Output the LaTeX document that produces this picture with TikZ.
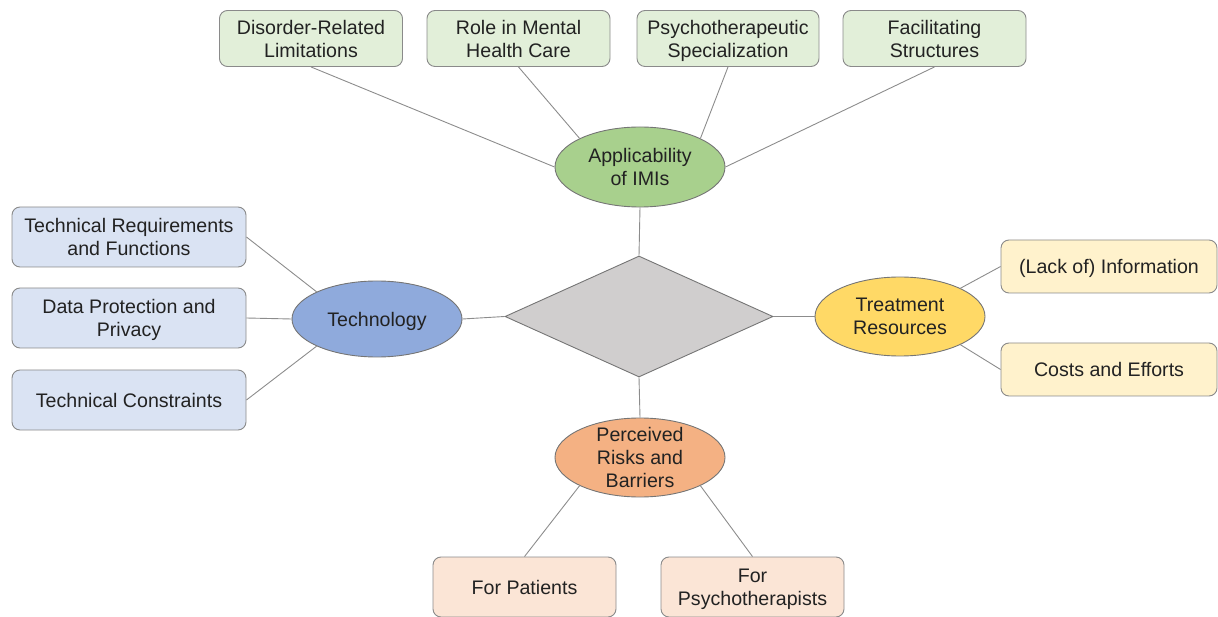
\documentclass[tikz,border=0pt]{standalone}
\usepackage{fontspec}
\setmainfont{Liberation Sans}
\usetikzlibrary{shapes.geometric}
\definecolor{gbox}{HTML}{E2EFD9}
\definecolor{gell}{HTML}{A8D08D}
\definecolor{bbox}{HTML}{DAE3F3}
\definecolor{bell}{HTML}{8FAADC}
\definecolor{ybox}{HTML}{FFF2CC}
\definecolor{yell}{HTML}{FFD966}
\definecolor{obox}{HTML}{FBE5D6}
\definecolor{oell}{HTML}{F4B183}
\definecolor{dia}{HTML}{D0CECE}
\definecolor{edgec}{HTML}{8C8C8C}
\definecolor{bordc}{HTML}{8A8A8A}
\definecolor{txtc}{HTML}{222222}
\tikzset{
  txt/.style={font=\fontsize{19.6}{23}\selectfont, text=txtc, align=center},
  leaf/.style={txt, text depth=0pt, draw=bordc, line width=0.9pt, rounded corners=8pt, inner sep=0pt},
  hub/.style={ellipse, draw=bordc!85!black, line width=0.9pt, minimum width=170pt, minimum height=80pt, inner sep=0pt},
  conn/.style={draw=edgec, line width=0.9pt},
}
\begin{document}
\begin{tikzpicture}[x=1pt,y=-1pt]
\useasboundingbox (0,0) rectangle (1218,617);
% central diamond
\node[diamond, fill=dia, draw=bordc!85!black, line width=0.9pt, minimum width=268pt, minimum height=121pt, inner sep=0pt] (dia) at (639,316.5) {};
% hubs
\node[hub, fill=gell, label={[txt]center:Applicability\\of IMIs}] (app) at (640,167) {};
\node[hub, fill=bell, minimum height=76pt, label={[txt, text depth=0pt]center:Technology}] (tech) at (377,319) {};
\node[hub, fill=yell, minimum height=79pt, label={[txt]center:Treatment\\Resources}] (treat) at (900,316.5) {};
\node[hub, fill=oell, minimum height=79pt, label={[txt]center:Perceived\\Risks and\\Barriers}] (risk) at (640,457.5) {};
% top leaves
\node[leaf, fill=gbox, minimum width=183pt, minimum height=56pt] (t1) at (311,38.5) {Disorder-Related\\Limitations};
\node[leaf, fill=gbox, minimum width=183pt, minimum height=56pt] (t2) at (518.5,38.5) {Role in Mental\\Health Care};
\node[leaf, fill=gbox, minimum width=182pt, minimum height=56pt] (t3) at (728,38.5) {Psychotherapeutic\\Specialization};
\node[leaf, fill=gbox, minimum width=183pt, minimum height=56pt] (t4) at (934.5,38.5) {Facilitating\\Structures};
% left leaves
\node[leaf, fill=bbox, minimum width=234pt, minimum height=60pt] (l1) at (129,237) {Technical Requirements\\and Functions};
\node[leaf, fill=bbox, minimum width=234pt, minimum height=60pt] (l2) at (129,318) {Data Protection and\\Privacy};
\node[leaf, fill=bbox, minimum width=234pt, minimum height=60pt] (l3) at (129,400) {Technical Constraints};
% right leaves
\node[leaf, fill=ybox, minimum width=216pt, minimum height=53pt] (r1) at (1109,266.5) {(Lack of) Information};
\node[leaf, fill=ybox, minimum width=216pt, minimum height=53pt] (r2) at (1109,369.5) {Costs and Efforts};
% bottom leaves
\node[leaf, fill=obox, minimum width=183pt, minimum height=60pt] (b1) at (524.5,587) {For Patients};
\node[leaf, fill=obox, minimum width=183pt, minimum height=60pt] (b2) at (752.5,587) {For\\Psychotherapists};
% connectors
\draw[conn] (t1.south) -- (app.west);
\draw[conn] (t2.south) -- (app.north west);
\draw[conn] (t3.south) -- (app.north east);
\draw[conn] (t4.south) -- (app.east);
\draw[conn] (app.south) -- (dia.north);
\draw[conn] (dia.south) -- (risk.north);
\draw[conn] (dia.west) -- (tech.east);
\draw[conn] (dia.east) -- (treat.west);
\draw[conn] (l1.east) -- (tech.north west);
\draw[conn] (l2.east) -- (tech.west);
\draw[conn] (l3.east) -- (tech.south west);
\draw[conn] (treat.north east) -- (r1.west);
\draw[conn] (treat.south east) -- (r2.west);
\draw[conn] (risk.south west) -- (b1.north);
\draw[conn] (risk.south east) -- (b2.north);
\end{tikzpicture}
\end{document}
